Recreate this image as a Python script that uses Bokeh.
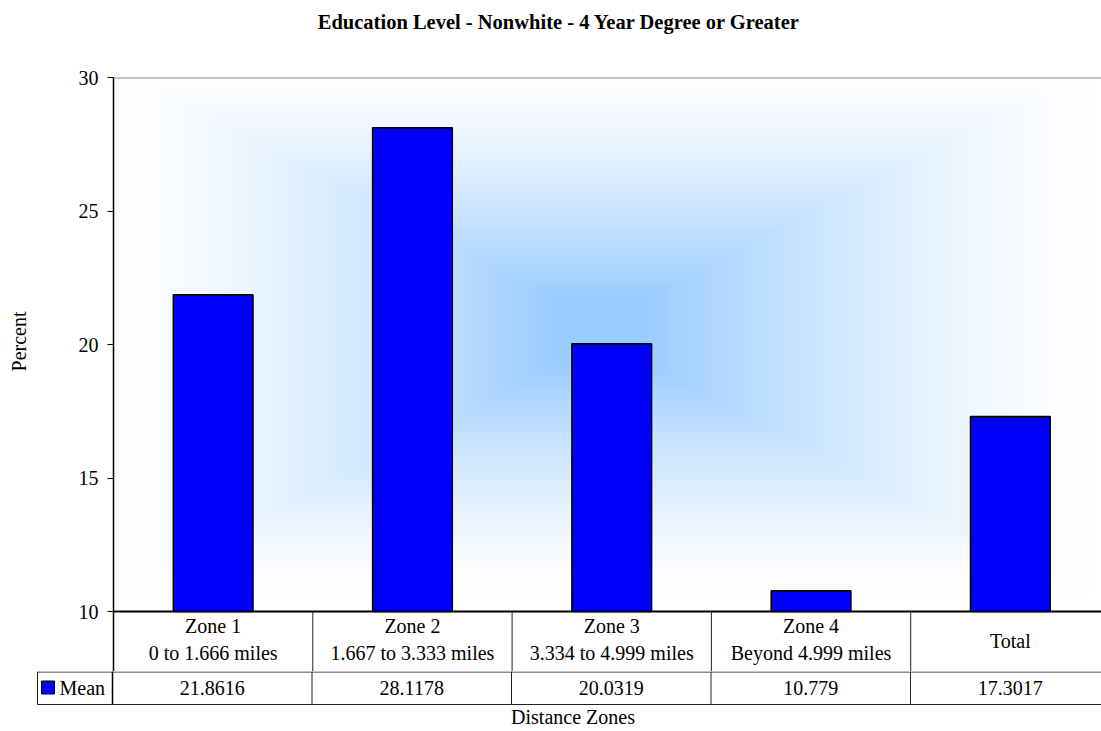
import numpy as np
from bokeh.plotting import figure
from bokeh.models import Range1d, FixedTicker, Span, Title
from bokeh.embed import file_html
from bokeh.resources import INLINE
from bokeh.core.properties import value

# ---------------- data ----------------
zone_names = ["Zone 1", "Zone 2", "Zone 3", "Zone 4", "Total"]
zone_ranges = ["0 to 1.666 miles", "1.667 to 3.333 miles", "3.334 to 4.999 miles",
               "Beyond 4.999 miles", ""]
mean_values = [21.8616, 28.1178, 20.0319, 10.779, 17.3017]
mean_labels = ["21.8616", "28.1178", "20.0319", "10.779", "17.3017"]
y_ticks = [10, 15, 20, 25, 30]
series_name = "Mean"
title_text = "Education Level - Nonwhite -  4 Year Degree or Greater"
y_label = "Percent"
x_label = "Distance Zones"

# ---------------- layout constants ----------------
FONT = "Liberation Serif"
FS = "20px"
W = 1101
CELL = 199.5            # px per category
LEFT_MAIN = 112         # main frame left (page px)
LEFT_TAB = 36           # table frame left (page px)
TOP = 77                # frame top
BASE = 611              # pixel row of the lowest tick (10)
HEAD_H = 60             # header row height
MAIN_H = BASE + HEAD_H  # 671
TAB_H = 731 - MAIN_H    # 60
PXU = (BASE - TOP) / (y_ticks[-1] - y_ticks[0])   # px per percent

n = len(zone_names)
xs = list(range(n))
x_end = -0.5 + (W - LEFT_MAIN) / CELL
x_tab_start = -0.5 - (LEFT_MAIN - LEFT_TAB) / CELL
x_tab_left_line = -0.5 - (LEFT_MAIN - LEFT_TAB - 1) / CELL
y_bottom = y_ticks[0] - HEAD_H / PXU

# ---------------- main chart ----------------
p = figure(width=W, height=MAIN_H, output_backend="svg", toolbar_location=None,
           x_range=Range1d(-0.5, x_end), y_range=Range1d(y_bottom, y_ticks[-1]),
           x_axis_location=None, min_border_left=LEFT_MAIN, min_border_right=0,
           min_border_top=TOP, min_border_bottom=0)
p.outline_line_color = None
p.grid.visible = False
p.background_fill_color = "white"
p.border_fill_color = "white"

# spacer between frame and title, then the title itself (outermost)
p.add_layout(Title(text=" ", text_font=FONT, text_font_size=FS, standoff=9), "above")
p.add_layout(Title(text=title_text, text_font=FONT, text_font_size="20.5px",
                   text_font_style="bold", text_color="black", align="right",
                   vertical_align="top", offset=296, standoff=20), "above")

# background gradient (rectangular, blue centre fading to white)
gx = np.linspace(-0.5, x_end, 500)
gy = np.linspace(y_ticks[0], y_ticks[-1], 270)
X, Y = np.meshgrid(gx, gy)
PX = LEFT_MAIN + (X + 0.5) * CELL
PY = TOP + (y_ticks[-1] - Y) * PXU
dx = np.clip(np.abs(PX - 600) - 40, 0, None) / 450
dy = np.clip(np.abs(PY - 330) - 30, 0, None) / 235
tt = np.maximum(dx, dy)
s = np.clip(1 - tt, 0, 1) ** 1.4
img = np.empty(X.shape, dtype=np.uint32)
view = img.view(dtype=np.uint8).reshape(X.shape + (4,))
view[..., 0] = (255 - (255 - 153) * s).astype(np.uint8)
view[..., 1] = (255 - (255 - 204) * s).astype(np.uint8)
view[..., 2] = 255
view[..., 3] = 255
p.image_rgba(image=[img], x=-0.5, y=y_ticks[0], dw=x_end + 0.5, dh=y_ticks[-1] - y_ticks[0])

p.vbar(x=xs, top=mean_values, bottom=y_ticks[0], width=0.4,
       fill_color="#0000FF", line_color="black", line_width=1.5)

p.add_layout(Span(location=y_ticks[-1], dimension="width", line_color="#808080", line_width=2))

# baseline (x axis line) and header-row cell dividers
p.segment(x0=[-0.5], y0=[y_ticks[0]], x1=[x_end], y1=[y_ticks[0]], line_color="black", line_width=2)
vx = [i + 0.5 for i in xs[:-1]]
p.segment(x0=vx, y0=[y_ticks[0]] * len(vx), x1=vx, y1=[y_bottom] * len(vx),
          line_color="#222222", line_width=1)

txt = dict(text_font=value(FONT), text_font_size=value(FS), text_color="black",
           text_align="center", text_baseline="middle")
two_x = [x for x, r in zip(xs, zone_ranges) if r]
two_n = [z for z, r in zip(zone_names, zone_ranges) if r]
two_r = [r for r in zone_ranges if r]
one_x = [x for x, r in zip(xs, zone_ranges) if not r]
one_n = [z for z, r in zip(zone_names, zone_ranges) if not r]
p.text(x=two_x, y=[y_ticks[0] - 14 / PXU] * len(two_x), text=two_n, **txt)
p.text(x=two_x, y=[y_ticks[0] - 41 / PXU] * len(two_x), text=two_r, **txt)
p.text(x=one_x, y=[y_ticks[0] - 29 / PXU] * len(one_x), text=one_n, **txt)

ax = p.yaxis[0]
ax.ticker = FixedTicker(ticks=y_ticks)
ax.major_label_text_font = FONT
ax.major_label_text_font_size = FS
ax.major_label_text_color = "black"
ax.major_label_standoff = 9
ax.major_tick_out = 6
ax.major_tick_in = 0
ax.minor_tick_out = 0
ax.minor_tick_in = 0
ax.axis_line_color = "black"
ax.axis_line_width = 1.5
ax.major_tick_line_color = "black"

# spacer then the rotated y-axis title
p.add_layout(Title(text=" ", text_font=FONT, text_font_size=FS, standoff=13), "left")
p.add_layout(Title(text=y_label, align="right", vertical_align="top", offset=234,
                   text_font=FONT, text_font_size=FS, text_font_style="normal",
                   text_color="black", standoff=14), "left")

# ---------------- data table (Mean row) ----------------
t = figure(width=W, height=TAB_H, output_backend="svg", toolbar_location=None,
           x_range=Range1d(x_tab_start, x_end), y_range=Range1d(TAB_H, 0),
           x_axis_location=None, y_axis_location=None,
           min_border_left=LEFT_TAB, min_border_right=0,
           min_border_top=0, min_border_bottom=0)
t.outline_line_color = None
t.grid.visible = False
t.background_fill_color = "white"
t.border_fill_color = "white"

ROW_B = 33
t.segment(x0=[x_tab_left_line] * 2, y0=[0.5, ROW_B], x1=[x_end] * 2, y1=[0.5, ROW_B],
          line_color="#222222", line_width=1)
vx2 = [x_tab_left_line] + [i - 0.5 for i in xs]
t.segment(x0=vx2, y0=[0] * len(vx2), x1=vx2, y1=[ROW_B] * len(vx2),
          line_color="#222222", line_width=1)
t.segment(x0=[-0.5], y0=[0], x1=[-0.5], y1=[ROW_B], line_color="black", line_width=1.5)

t.text(x=xs, y=[16] * n, text=mean_labels, **txt)

# legend key
t.rect(x=[-0.5 - (LEFT_MAIN - 47.5) / CELL], y=[16], width=13, height=13,
       width_units="screen", height_units="screen",
       fill_color="#0000FF", line_color="black", line_width=1)
t.text(x=[-0.5 - (LEFT_MAIN - 59) / CELL], y=[16], text=[series_name],
       text_font=value(FONT), text_font_size=value(FS), text_color="black",
       text_align="left", text_baseline="middle")

t.text(x=[(x_tab_start + x_end) / 2 + 4 / CELL], y=[45], text=[x_label], **txt)

open("out.html", "w").write(file_html([p, t], INLINE))
